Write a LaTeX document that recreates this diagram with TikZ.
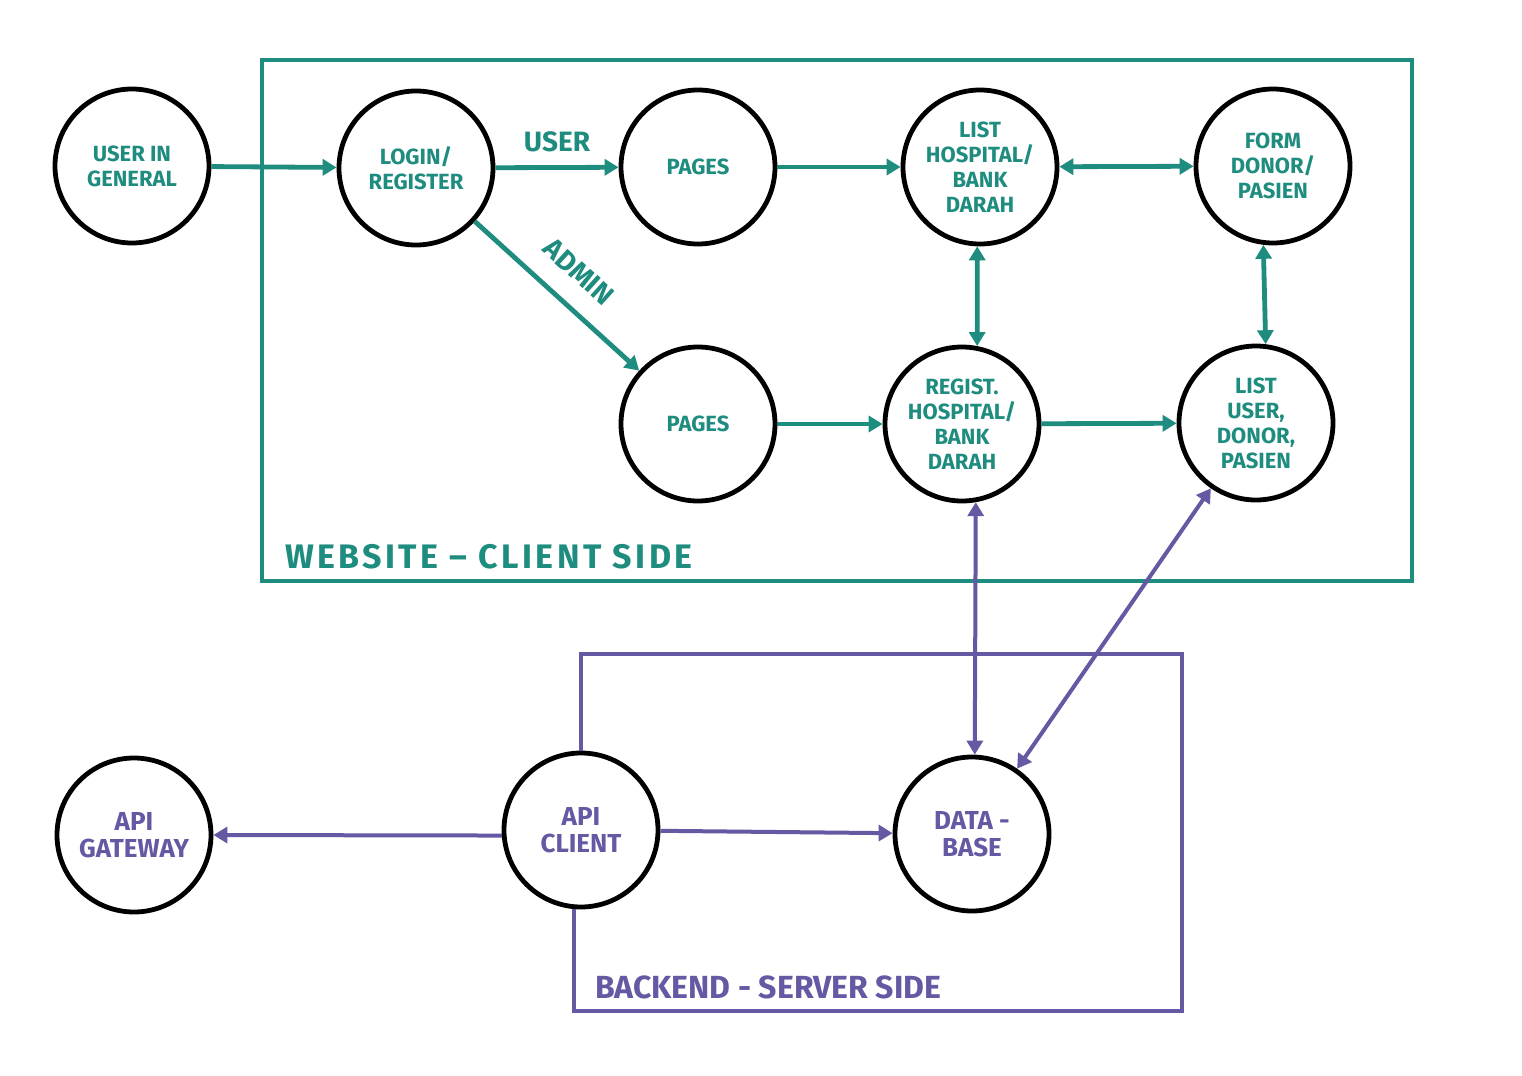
\documentclass[tikz,border=0pt]{standalone}
\usepackage{fontspec}
\setmainfont{Fira Sans}
\usetikzlibrary{arrows.meta}
\definecolor{tealc}{HTML}{1E8C7E}
\definecolor{purpc}{HTML}{6459A3}
\begin{document}
\begin{tikzpicture}[x=0.5pt,y=-0.5pt,
  st/.style={circle,draw=black,line width=2.4pt,minimum size=77pt,inner sep=0pt,align=center,
    font=\bfseries\fontsize{11}{12.5}\selectfont,text=tealc},
  bst/.style={st,text=purpc,font=\bfseries\fontsize{13}{13.5}\selectfont},
  tip/.tip={Triangle[length=7pt,width=8pt]},
  ta/.style={draw=tealc,line width=2.4pt,-tip},
  tb/.style={draw=tealc,line width=2.4pt,tip-tip},
  pa/.style={draw=purpc,line width=2pt,-tip},
  pb/.style={draw=purpc,line width=2pt,tip-tip},
  tlab/.style={text=tealc,font=\bfseries\fontsize{14}{15}\selectfont},
  blab/.style={font=\bfseries\fontsize{16}{18}\selectfont},
]
\useasboundingbox[fill=white] (0,0) rectangle (1522,1076);

% client-side frame
\draw[draw=tealc,line width=2.4pt] (262,60) rectangle (1412,581);
\node[blab,text=tealc,anchor=west,font=\bfseries\fontsize{17}{18}\selectfont\addfontfeatures{LetterSpace=10}] (wl) at (278,557) {WEBSITE -- CLIENT SIDE};

% nodes (client)
\node[st] (u)  at (132,166) {USER IN\\GENERAL};
\node[st] (l)  at (416,168) {LOGIN/\\REGISTER};
\node[st] (p1) at (698,167) {PAGES};
\node[st] (lh) at (980,167) {LIST\\HOSPITAL/\\BANK\\DARAH};
\node[st] (f)  at (1273,166) {FORM\\DONOR/\\PASIEN};
\node[st] (p2) at (698,424) {PAGES};
\node[st] (rh) at (962,424) {REGIST.\\HOSPITAL/\\BANK\\DARAH};
\node[st] (lu) at (1256,423) {LIST\\USER,\\DONOR,\\PASIEN};

% nodes (server)
\node[bst] (ag) at (134,835) {API\\GATEWAY};
\node[bst] (ac) at (581,830) {API\\CLIENT};
\node[bst] (db) at (972,834) {DATA -\\BASE};

% server-side frame
\draw[draw=purpc,line width=2pt] (ac.north) |- (1182,654) -- (1182,1011) -| (ac.-95);
\node[blab,text=purpc,anchor=west] (bl) at (588,987) {BACKEND - SERVER SIDE};

% teal connectors
\draw[ta] (u) -- (l);
\draw[ta] (l) -- node[tlab,above=3pt] (ul) {USER} (p1);
\draw[ta] (l) -- node[tlab,sloped,above=7pt] (al) {ADMIN} (p2);
\draw[ta] (p1) -- (lh);
\draw[tb] (lh) -- (f);
\draw[tb] (lh.-92) -- (rh.79);
\draw[tb] (f.-97) -- (lu.83);
\draw[ta] (p2) -- (rh);
\draw[ta] (rh) -- (lu);

% purple connectors
\draw[pb] (rh.-80) -- (db.88);
\draw[pb] (lu) -- (db);
\draw[pa] (ac.184) -- (ag.east);
\draw[pa] (ac) -- (db);
\end{tikzpicture}
\end{document}
